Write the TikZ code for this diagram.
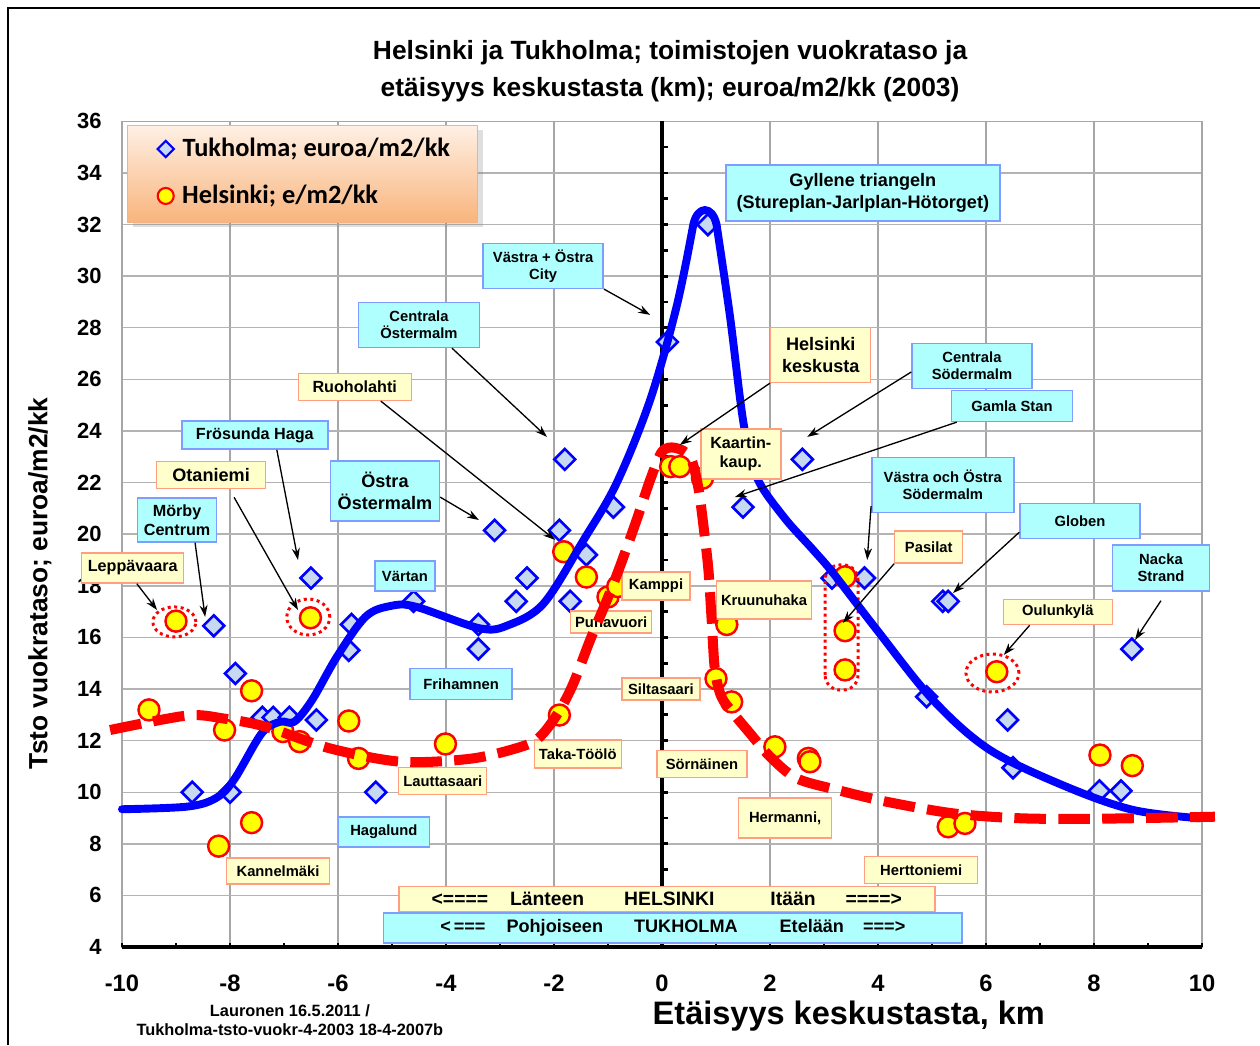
\documentclass[tikz,border=0pt]{standalone}
\usepackage{fontspec}
\setmainfont{Liberation Sans}
\newfontfamily\legendfont{Carlito}
\usetikzlibrary{positioning,arrows.meta,shapes.geometric,shadows}
\definecolor{tkFill}{HTML}{B0FFFF}
\definecolor{tkEdge}{HTML}{7F9CFF}
\definecolor{tkBlue}{HTML}{0000FF}
\definecolor{tkDiamond}{HTML}{C6D9F1}
\definecolor{hkFill}{HTML}{FFFFCC}
\definecolor{hkEdge}{HTML}{FF9F80}
\definecolor{hkRed}{HTML}{FF0000}
\definecolor{hkYellow}{HTML}{FFFF00}
\definecolor{gridGray}{HTML}{A6A6A6}
\definecolor{legTop}{HTML}{FEF0E4}
\definecolor{legBottom}{HTML}{F9B47C}
\definecolor{legEdge}{HTML}{F4B183}

\begin{document}
\begin{tikzpicture}[x=1.08cm, y=0.516cm,
  txtS/.style={font=\fontsize{8.4}{9.7}\selectfont\bfseries},
  txtM/.style={font=\fontsize{9.2}{10.9}\selectfont\bfseries},
  txtL/.style={font=\fontsize{10.3}{12.3}\selectfont\bfseries},
  tkbox/.style={draw=tkEdge, fill=tkFill, line width=0.8pt, align=center, inner sep=0pt},
  hkbox/.style={draw=hkEdge, fill=hkFill, line width=0.8pt, align=center, inner sep=0pt},
  tkmark/.style={diamond, draw=tkBlue, fill=tkDiamond, line width=1.5pt, inner sep=0pt,
    minimum width=0.44cm, minimum height=0.44cm},
  hkmark/.style={circle, draw=hkRed, fill=hkYellow, line width=1.4pt, inner sep=0pt,
    minimum size=0.42cm},
  halo/.style={draw=hkRed, dotted, line width=1.7pt},
  arr/.style={-{Stealth[length=6.8pt, width=4.6pt]}, line width=0.75pt, black},
  tkcurve/.style={line width=4.5pt, color=tkBlue, line join=round, line cap=round},
  hkcurve/.style={line width=5.7pt, color=hkRed, dash pattern=on 18pt off 7pt},
  ylbl/.style={font=\fontsize{12.5}{14}\selectfont\bfseries, anchor=east, inner sep=0pt},
  xlbl/.style={font=\fontsize{13.5}{15}\selectfont\bfseries, inner sep=0pt},
  legbox/.style={draw=legEdge, line width=0.6pt, top color=legTop, bottom color=legBottom,
    minimum width=7cm, minimum height=1.94cm, drop shadow={opacity=0.25}},
  legtxt/.style={font=\legendfont\fontsize{15}{17}\selectfont\bfseries, inner sep=0pt}
]
  \useasboundingbox (-12.259,0.2016) rectangle (11.074,40.705);
  % outer frame
  \draw[line width=0.9pt] (-12.11,0.2016) -- (-12.11,40.4) -- (11.074,40.4);
  % grid and plot frame
  \foreach \x in {-8,-6,...,8} \draw[gridGray, line width=0.6pt] (\x,4) -- (\x,36);
  \foreach \y in {6,8,...,34} \draw[gridGray!85, line width=0.8pt] (-10,\y) -- (10,\y);
  \draw[gridGray, line width=0.8pt] (-10,4) rectangle (10,36);
  % axes through the centre
  \draw[line width=2.3pt] (0,4) -- (0,36);
  \foreach \y in {5,...,35} \draw[line width=1.5pt] (0,\y) -- (0.11,\y);
  \draw[line width=2.8pt] (-10,4) -- (10,4);
  \foreach \x in {-10,...,10} \draw[line width=1.5pt] (\x,4) -- (\x,4.17);
  % tick labels
  \foreach \y [count=\i] in {4,6,...,36} \node[ylbl] (ytick\i) at (-10.37,\y) {\y};
  \foreach \x [count=\i] in {-10,-8,...,10} \node[xlbl] (xtick\i) at (\x,2.6) {\x};
  % titles
  \node[font=\fontsize{15}{21}\selectfont\bfseries, align=center] (title) at (0.15,37.93)
    {Helsinki ja Tukholma; toimistojen vuokrataso ja\\etäisyys keskustasta (km); euroa/m2/kk (2003)};
  \node[font=\fontsize{15}{17}\selectfont\bfseries, rotate=90] (ytitle) at (-11.52,18.1)
    {Tsto vuokrataso; euroa/m2/kk};
  \node[font=\fontsize{18.5}{20}\selectfont\bfseries] (xtitle) at (3.46,1.33)
    {Etäisyys keskustasta, km};
  \node[font=\fontsize{9.3}{10.8}\selectfont\bfseries, align=center] (source) at (-6.89,1.17)
    {Lauronen 16.5.2011 /\\Tukholma-tsto-vuokr-4-2003 18-4-2007b};
  % legend
  \node[legbox] (legend) at (-6.65,33.96) {};
  \node[tkmark, minimum width=0.34cm, minimum height=0.34cm, line width=1.2pt] (legtk) at (-9.19,34.93) {};
  \node[hkmark, minimum size=0.32cm, line width=1.2pt] (leghk) at (-9.19,33.11) {};
  \node[legtxt, right=0.14cm of legtk] (legtktxt) {Tukholma; euroa/m2/kk};
  \node[legtxt, right=0.14cm of leghk] (leghktxt) {Helsinki; e/m2/kk};
  % Tukholma points
  \foreach \x/\y [count=\i] in {-8.7/10.0, -8.0/10.0, -8.3/16.45, -7.9/14.6, -7.4/12.9, -7.2/12.9,
      -6.9/12.9, -6.4/12.8, -6.5/18.3, -5.75/16.5, -5.8/15.5, -5.3/10.0, -4.6/17.4, -3.4/16.5,
      -3.4/15.55, -3.1/20.15, -2.7/17.4, -2.5/18.3, -1.9/20.15, -1.8/22.9, -1.7/17.4, -1.4/19.2,
      -0.9/21.05, 0.1/27.45, 0.85/32.0, 1.5/21.05, 2.6/22.9, 3.15/18.3, 3.75/18.3, 4.9/13.7,
      5.2/17.4, 5.3/17.4, 6.4/12.8, 6.5/10.95, 8.1/10.05, 8.5/10.05, 8.7/15.55}
    \node[tkmark] (tk\i) at (\x,\y) {};
  % Helsinki points
  \foreach \x/\y [count=\i] in {-9.0/16.63, -6.51/16.76, -9.5/13.19, -8.1/12.41, -7.6/13.93,
      -7.02/12.35, -6.71/11.96, -5.8/12.76, -5.62/11.31, -4.01/11.87, -1.9/12.99, -8.21/7.91,
      -7.6/8.82, -1.82/19.32, -1.4/18.34, -1.0/17.57, -0.82/17.97, 0.16/22.62, 0.33/22.62,
      0.75/22.17, 1.2/16.5, 1.0/14.4, 1.29/13.5, 2.09/11.76, 2.71/11.31, 2.74/11.18, 3.39/18.35,
      3.39/16.26, 3.39/14.74, 6.2/14.67, 5.3/8.66, 5.61/8.79, 8.11/11.44, 8.71/11.03}
    \node[hkmark] (hk\i) at (\x,\y) {};
  % dotted rings
  \draw[halo] (-9.03,16.6) ellipse [x radius=0.43cm, y radius=0.3cm];
  \draw[halo] (-6.55,16.79) ellipse [x radius=0.43cm, y radius=0.36cm];
  \draw[halo] (6.12,14.62) ellipse [x radius=0.53cm, y radius=0.38cm];
  \draw[halo, rounded corners=0.3cm] (3.02,13.96) rectangle (3.63,18.81);
  % Tukholma trend
  \draw[tkcurve] plot[smooth, tension=0.55] coordinates {(-10.0,9.34) (-8.8,9.44) (-8.27,9.76)
    (-7.93,10.47) (-7.41,12.29) (-7.07,12.73) (-6.81,12.73) (-6.48,13.57) (-6.02,15.25)
    (-5.49,16.8) (-5.02,17.22) (-4.56,17.19) (-3.37,16.35) (-2.84,16.48) (-2.19,17.32)
    (-1.45,19.78) (-0.84,21.98) (-0.22,25.2) (0.27,28.82) (0.58,32.0)}
    .. controls (0.66,32.75) and (0.93,32.75) .. (1.01,32.0)
    -- plot[smooth, tension=0.55] coordinates {(1.01,32.0) (1.26,28.43) (1.51,24.3) (1.75,22.23)
    (2.25,20.68) (2.8,19.39) (3.17,18.49) (3.98,16.29) (5.02,13.57) (6.07,11.64) (7.49,10.21)
    (8.73,9.31) (9.96,8.99)};
  % Tukholma labels
  \node[tkbox, txtL, minimum width=5.48cm, minimum height=1.12cm] (gyll) at (3.72,33.22)
    {Gyllene triangeln\\(Stureplan-Jarlplan-Hötorget)};
  \node[tkbox, txtS, minimum width=2.4cm, minimum height=0.9cm] (vcity) at (-2.2,30.4) {Västra + Östra\\City};
  \node[tkbox, txtS, minimum width=2.42cm, minimum height=0.9cm] (cost) at (-4.5,28.11) {Centrala\\Östermalm};
  \node[tkbox, txtM, minimum width=2.92cm, minimum height=0.56cm] (fros) at (-7.54,23.84) {Frösunda Haga};
  \node[tkbox, txtM, minimum width=1.58cm, minimum height=0.88cm] (morby) at (-8.98,20.55) {Mörby\\Centrum};
  \node[tkbox, txtL, minimum width=2.18cm, minimum height=1.2cm] (ostra) at (-5.13,21.67) {Östra\\Östermalm};
  \node[tkbox, txtS, minimum width=1.2cm, minimum height=0.6cm] (vart) at (-4.76,18.38) {Värtan};
  \node[tkbox, txtS, minimum width=2.04cm, minimum height=0.62cm] (frih) at (-3.72,14.19) {Frihamnen};
  \node[tkbox, txtS, minimum width=1.82cm, minimum height=0.6cm] (haga) at (-5.15,8.46) {Hagalund};
  \node[tkbox, txtS, minimum width=2.4cm, minimum height=0.9cm] (csod) at (5.74,26.52) {Centrala\\Södermalm};
  \node[tkbox, txtS, minimum width=2.42cm, minimum height=0.62cm] (gstan) at (6.48,24.97) {Gamla Stan};
  \node[tkbox, txtS, minimum width=2.84cm, minimum height=1.1cm] (voso) at (5.2,21.91) {Västra och Östra\\Södermalm};
  \node[tkbox, txtS, minimum width=2.4cm, minimum height=0.7cm] (glob) at (7.74,20.51) {Globen};
  \node[tkbox, txtS, minimum width=1.94cm, minimum height=0.92cm] (nacka) at (9.24,18.69) {Nacka\\Strand};
  \node[tkbox, font=\fontsize{10.3}{12}\selectfont\bfseries, minimum width=11.56cm, minimum height=0.6cm]
    (tkdir) at (0.2,4.74)
    {<\,===\hspace{0.42cm}Pohjoiseen\hspace{0.62cm}TUKHOLMA\hspace{0.84cm}Etelään\hspace{0.38cm}===>};
  % Helsinki labels
  \node[hkbox, txtL, minimum width=2.0cm, minimum height=1.1cm] (hkesk) at (2.94,26.95) {Helsinki\\keskusta};
  \node[hkbox, txtM, minimum width=2.26cm, minimum height=0.54cm] (ruoho) at (-5.69,25.71) {Ruoholahti};
  \node[hkbox, txtL, minimum width=2.18cm, minimum height=0.54cm] (otan) at (-8.35,22.29) {Otaniemi};
  \node[hkbox, txtM, minimum width=2.04cm, minimum height=0.6cm] (lepp) at (-9.8,18.69) {Leppävaara};
  \node[hkbox, txtM, minimum width=1.6cm, minimum height=1.0cm] (kaart) at (1.46,23.11) {Kaartin-\\kaup.};
  \node[hkbox, txtS, minimum width=1.36cm, minimum height=0.56cm] (kamppi) at (-0.11,17.99) {Kamppi};
  \node[hkbox, txtS, minimum width=1.62cm, minimum height=0.44cm] (puna) at (-0.94,16.6) {Punavuori};
  \node[hkbox, txtS, minimum width=1.9cm, minimum height=0.76cm] (kruunu) at (1.89,17.45) {Kruunuhaka};
  \node[hkbox, txtS, minimum width=1.56cm, minimum height=0.44cm] (silta) at (-0.02,14.0) {Siltasaari};
  \node[hkbox, txtS, minimum width=1.74cm, minimum height=0.56cm] (taka) at (-1.56,11.48) {Taka-Töölö};
  \node[hkbox, txtS, minimum width=1.76cm, minimum height=0.54cm] (lautta) at (-4.06,10.43) {Lauttasaari};
  \node[hkbox, txtS, minimum width=2.06cm, minimum height=0.52cm] (kannel) at (-7.11,6.95) {Kannelmäki};
  \node[hkbox, txtS, minimum width=1.8cm, minimum height=0.54cm] (sorn) at (0.74,11.09) {Sörnäinen};
  \node[hkbox, txtS, minimum width=1.86cm, minimum height=0.8cm] (herm) at (2.28,9.0) {Hermanni,};
  \node[hkbox, txtS, minimum width=1.36cm, minimum height=0.64cm] (pasil) at (4.94,19.5) {Pasilat};
  \node[hkbox, txtS, minimum width=2.18cm, minimum height=0.5cm] (oulu) at (7.33,16.98) {Oulunkylä};
  \node[hkbox, txtS, minimum width=2.26cm, minimum height=0.54cm] (hertt) at (4.8,6.98) {Herttoniemi};
  \node[hkbox, font=\fontsize{11}{12}\selectfont\bfseries, minimum width=10.72cm, minimum height=0.5cm]
    (hkdir) at (0.09,5.86)
    {<====\hspace{0.44cm}Länteen\hspace{0.8cm}HELSINKI\hspace{1.12cm}Itään\hspace{0.6cm}====>};
  % Helsinki trend
  \draw[hkcurve] plot[smooth, tension=0.5] coordinates {(-10.22,12.41) (-8.8,12.97) (-8.13,12.86)
    (-7.34,12.54) (-6.15,11.7) (-4.83,11.18) (-3.5,11.31) (-2.51,11.83) (-2.2,12.28) (-1.89,13.19)
    (-1.64,14.22) (-1.33,15.9) (-1.02,17.45) (-0.78,18.74) (-0.47,20.55) (-0.22,22.1) (0.0,23.2)
    (0.24,23.35) (0.52,23.0) (0.67,21.84) (0.77,20.29) (0.86,18.61) (0.92,16.67) (0.98,14.74)
    (1.1,13.7) (1.32,13.06) (1.63,12.28) (2.0,11.38) (2.49,10.54) (3.24,10.09) (4.16,9.63)
    (5.39,9.18) (6.63,8.99) (8.0,8.97) (10.24,9.05)};
  % arrow targets
  \coordinate (tvcity) at (-0.22,28.5);
  \coordinate (tcost) at (-2.13,23.77);
  \coordinate (truoho) at (-1.98,19.78);
  \coordinate (tfros) at (-6.74,19.0);
  \coordinate (tmorby) at (-8.46,16.79);
  \coordinate (totan) at (-6.74,17.06);
  \coordinate (tlepp) at (-9.35,17.06);
  \coordinate (tostra) at (-3.39,20.55);
  \coordinate (thkesk) at (0.33,23.46);
  \coordinate (tcsod) at (2.69,23.77);
  \coordinate (tgstan) at (1.35,21.44);
  \coordinate (tvoso) at (3.8,19.0);
  \coordinate (tpasil) at (3.35,16.56);
  \coordinate (tglob) at (5.39,17.72);
  \coordinate (toulu) at (6.33,15.32);
  \coordinate (tnacka) at (8.76,15.9);
  % arrows
  \draw[arr] (vcity.south east) -- (tvcity);
  \draw[arr] ([xshift=0.66cm]cost.south) -- (tcost);
  \draw[arr] ([xshift=0.52cm]ruoho.south) -- (truoho);
  \draw[arr] ([xshift=0.44cm]fros.south) -- (tfros);
  \draw[arr] ([xshift=0.36cm]morby.south) -- (tmorby);
  \draw[arr] ([xshift=0.46cm,yshift=-0.16cm]otan.south) -- (totan);
  \draw[arr] ([xshift=0.08cm]lepp.south) -- (tlepp);
  \draw[arr] ([yshift=-0.12cm]ostra.east) -- (tostra);
  \draw[arr] (hkesk.south west) -- (thkesk);
  \draw[arr] ([yshift=-0.12cm]csod.west) -- (tcsod);
  \draw[arr] ([xshift=0.12cm]gstan.south west) -- (tgstan);
  \draw[arr] ([yshift=0.14cm]voso.south west) -- (tvoso);
  \draw[arr] (pasil.south west) -- (tpasil);
  \draw[arr] ([yshift=0.14cm]glob.south west) -- (tglob);
  \draw[arr] ([xshift=0.54cm]oulu.south west) -- (toulu);
  \draw[arr] ([yshift=-0.18cm]nacka.south) -- (tnacka);
\end{tikzpicture}
\end{document}
